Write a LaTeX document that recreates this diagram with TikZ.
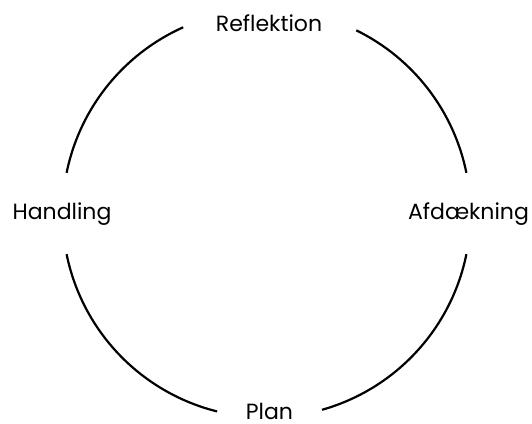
\documentclass[tikz,border=0pt]{standalone}
\usepackage{fontspec}
\setmainfont{Poppins}
\begin{document}
\begin{tikzpicture}[x=1pt,y=1pt,
  lbl/.style={anchor=base,inner sep=0pt,font=\fontsize{22}{26}\selectfont},
  ring/.style={line width=2.2pt,black}]
\useasboundingbox (0,0) rectangle (532,423);
\coordinate (c) at (266.5,209.5);
\node[lbl] (refl) at (269,391) {Reflektion};
\node[lbl] (hand) at (62,203) {Handling};
\node[lbl] (afd) at (468.5,203) {Afdækning};
\node[lbl] (plan) at (269.5,4) {Plan};
\draw[ring] ([shift={(c)}] 11.5:204) arc[start angle=11.5, end angle=63.9, radius=204];
\draw[ring] ([shift={(c)}] 114.1:204) arc[start angle=114.1, end angle=168.5, radius=204];
\draw[ring] ([shift={(c)}] 191.5:204) arc[start angle=191.5, end angle=256, radius=204];
\draw[ring] ([shift={(c)}] 285.8:204) arc[start angle=285.8, end angle=348.5, radius=204];
\end{tikzpicture}
\end{document}
